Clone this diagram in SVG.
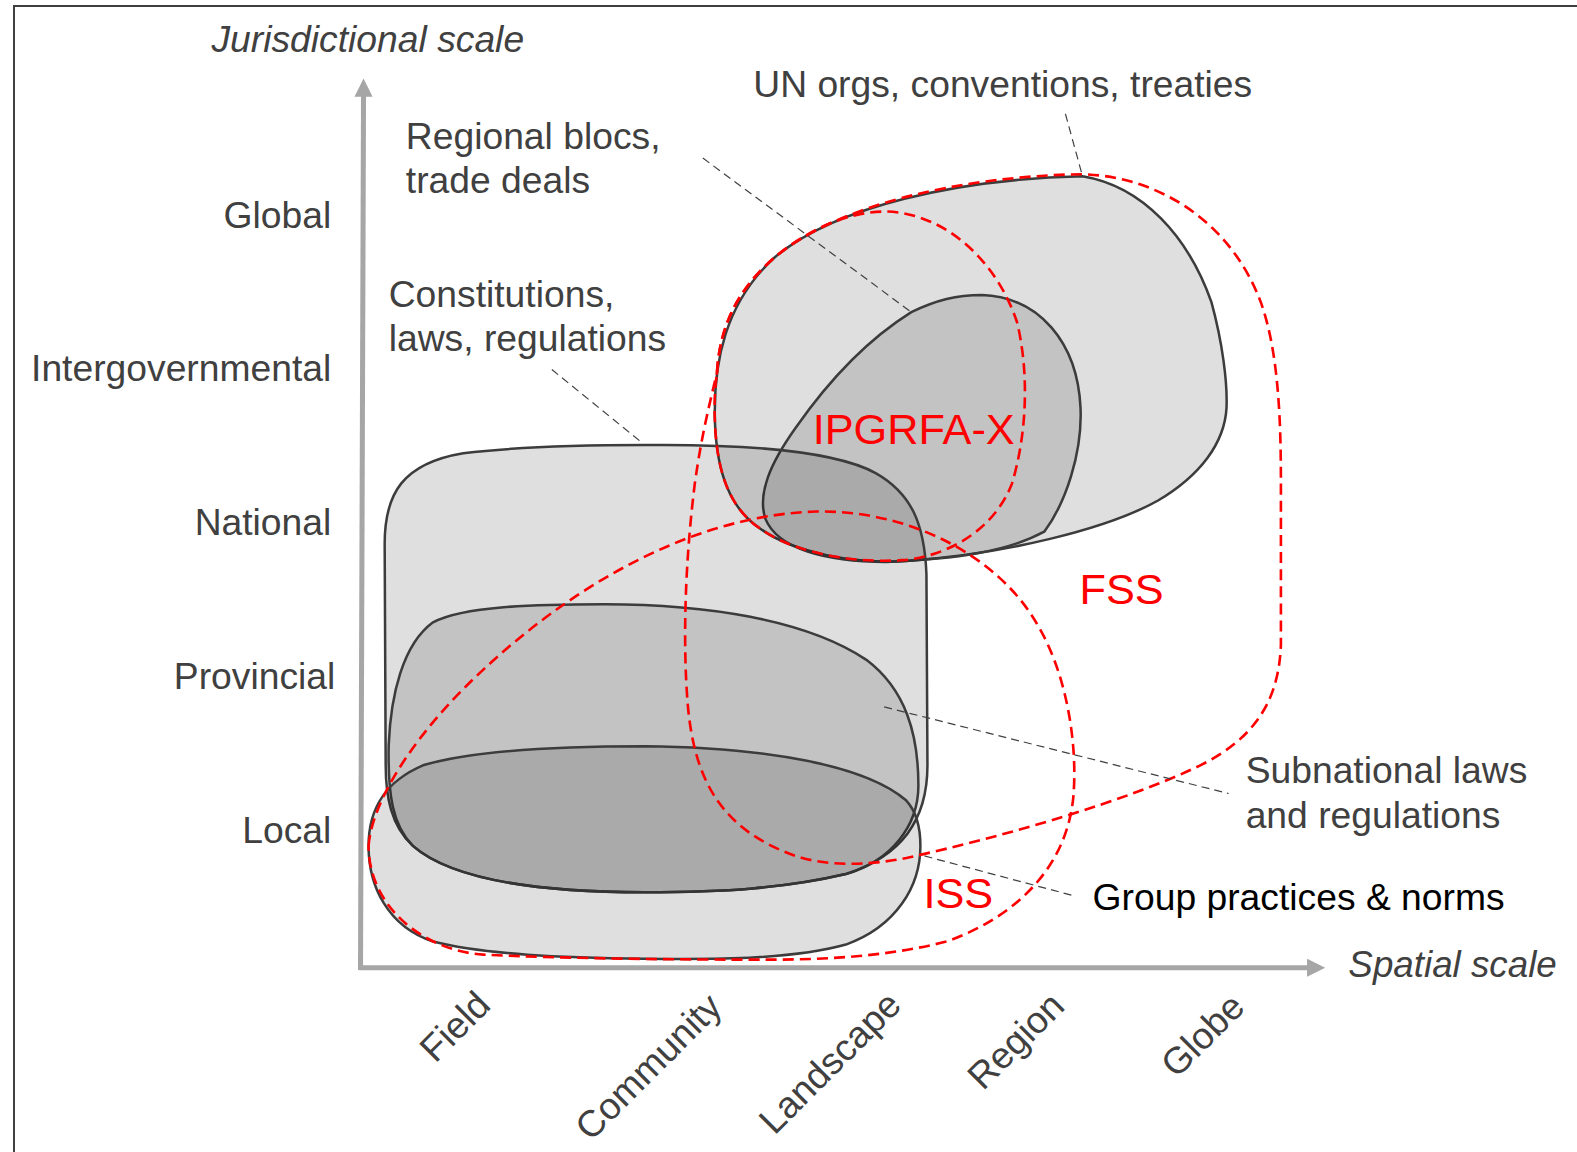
<svg xmlns="http://www.w3.org/2000/svg" width="1577" height="1152" viewBox="0 0 1577 1152">
<style>
.t{font-family:"Liberation Sans",Arial,sans-serif;font-size:37px;fill:#404040}
.ti{font-family:"Liberation Sans",Arial,sans-serif;font-size:37px;fill:#404040;font-style:italic}
.r{font-family:"Liberation Sans",Arial,sans-serif;font-size:43px;fill:#ff0000}
.sh{fill:#000;fill-opacity:0.125;stroke:#3c3c3c;stroke-width:2.5}
.dash{fill:none;stroke:#ff0000;stroke-width:2.6;stroke-dasharray:11 6}
.lead{fill:none;stroke:#404040;stroke-width:1.2;stroke-dasharray:8 5}
.ax{stroke:#a6a6a6;stroke-width:5;fill:none}
</style>
<rect x="14" y="6" width="1600" height="1200" fill="#fff" stroke="#404040" stroke-width="2"/>
<g transform="scale(1.007)">
<g id="axes">
<line class="ax" x1="358" y1="963" x2="361" y2="94"/>
<polygon points="361,78 352,96 370,96" fill="#a6a6a6"/>
<line class="ax" x1="356" y1="961" x2="1300" y2="961"/>
<polygon points="1316,961 1298,952 1298,970" fill="#a6a6a6"/>
</g>
<g id="node-un"><path class="sh" d="M1075,175 C1135,185 1180,235 1203,300 C1214,340 1219,380 1218,405 C1216,440 1192,472 1150,497 C1100,525 1000,550 900,557 C850,560 790,550 755,525 C725,505 712,470 710,420 C708,360 720,300 770,255 C830,205 950,178 1075,175 Z"/></g>
<g id="node-regional"><path class="sh" d="M975,293 C1032,295 1070,340 1073,405 C1075,450 1058,500 1037,528 C1000,548 950,555 880,558 C820,558 772,545 760,515 C752,490 765,460 790,425 C825,375 865,335 905,310 C930,298 950,293 975,293 Z"/></g>
<g id="node-constitutions"><path class="sh" d="M640,442 C740,441 830,448 870,470 C905,490 918,520 920,570 L921,760 C921,815 895,850 840,868 C780,882 720,886 640,886 C540,886 450,875 410,840 C388,820 383,790 383,760 L382,540 C382,490 400,460 460,450 C520,443 580,442 640,442 Z"/></g>
<g id="node-subnational"><path class="sh" d="M600,600 C700,600 800,615 860,655 C900,685 912,730 912,780 C912,820 885,855 840,868 C780,882 720,886 640,886 C540,886 450,875 410,840 C390,820 385,790 386,740 C388,690 400,640 430,618 C460,602 530,600 600,600 Z"/></g>
<g id="node-group"><path class="sh" d="M640,741 C760,742 860,760 900,795 C912,808 914,825 914,840 C914,880 890,920 840,938 C790,952 720,953 640,952 C560,951 480,948 430,935 C385,920 366,880 366,840 C366,800 385,775 420,760 C470,745 560,741 640,741 Z"/></g>
<g id="node-fss"><path class="dash" d="M712,370 C715,320 735,285 770,255 C830,205 950,175 1075,173 C1150,175 1222,220 1252,300 C1270,350 1272,420 1272,480 L1272,640 C1270,700 1242,735 1192,760 C1120,795 1000,830 900,852 C860,860 820,860 790,850 C720,825 690,780 683,700 C678,640 680,560 690,480 C697,430 705,400 712,370 Z"/></g>
<g id="node-ipgrfa"><path class="dash" d="M712,370 C715,320 735,285 770,255 C800,230 840,210 880,210 C940,212 990,260 1010,320 C1022,370 1020,430 1005,480 C990,520 950,550 900,556 C850,560 790,550 755,525 C725,505 712,470 710,420 C709,400 710,385 712,370 Z"/></g>
<g id="node-iss"><path class="dash" d="M366,840 C370,790 420,720 480,665 C560,590 680,512 810,508 C900,506 990,550 1030,620 C1060,670 1070,740 1066,790 C1060,860 1010,910 940,935 C880,950 820,953 760,953 C680,953 560,952 480,948 C420,944 366,900 366,840 Z"/></g>
<g id="connectors">
<line class="lead" x1="1058" y1="113" x2="1075" y2="175"/>
<line class="lead" x1="698" y1="157" x2="905" y2="310"/>
<line class="lead" x1="548" y1="367" x2="638" y2="440"/>
<line class="lead" x1="878" y1="702" x2="1220" y2="788"/>
<line class="lead" x1="918" y1="850" x2="1068" y2="890"/>
</g>
<g id="labels">
<text class="ti" x="210" y="52">Jurisdictional scale</text>
<text class="ti" x="1339" y="970" textLength="207" lengthAdjust="spacingAndGlyphs">Spatial scale</text>
<text class="t" x="329" y="226" text-anchor="end">Global</text>
<text class="t" x="329" y="378" text-anchor="end">Intergovernmental</text>
<text class="t" x="329" y="531" text-anchor="end">National</text>
<text class="t" x="333" y="684" text-anchor="end">Provincial</text>
<text class="t" x="329" y="837" text-anchor="end">Local</text>
<text class="t" x="748" y="96">UN orgs, conventions, treaties</text>
<text class="t" x="403" y="148">Regional blocs,</text>
<text class="t" x="403" y="192">trade deals</text>
<text class="t" x="386" y="305">Constitutions,</text>
<text class="t" x="386" y="349">laws, regulations</text>
<text class="t" x="1237" y="778">Subnational laws</text>
<text class="t" x="1237" y="822">and regulations</text>
<text class="t" x="1085" y="904" style="fill:#000">Group practices &amp; norms</text>
<text class="r" x="807" y="441">IPGRFA-X</text>
<text class="r" x="1072" y="600">FSS</text>
<text class="r" x="917" y="902">ISS</text>
<text class="t" text-anchor="end" transform="translate(489,1000) rotate(-45)">Field</text>
<text class="t" text-anchor="end" transform="translate(719,1002) rotate(-45)">Community</text>
<text class="t" text-anchor="end" transform="translate(897,1000) rotate(-45)">Landscape</text>
<text class="t" text-anchor="end" transform="translate(1059,1001) rotate(-45)">Region</text>
<text class="t" text-anchor="end" transform="translate(1238,1002) rotate(-45)">Globe</text>
</g>
</g>
</svg>
